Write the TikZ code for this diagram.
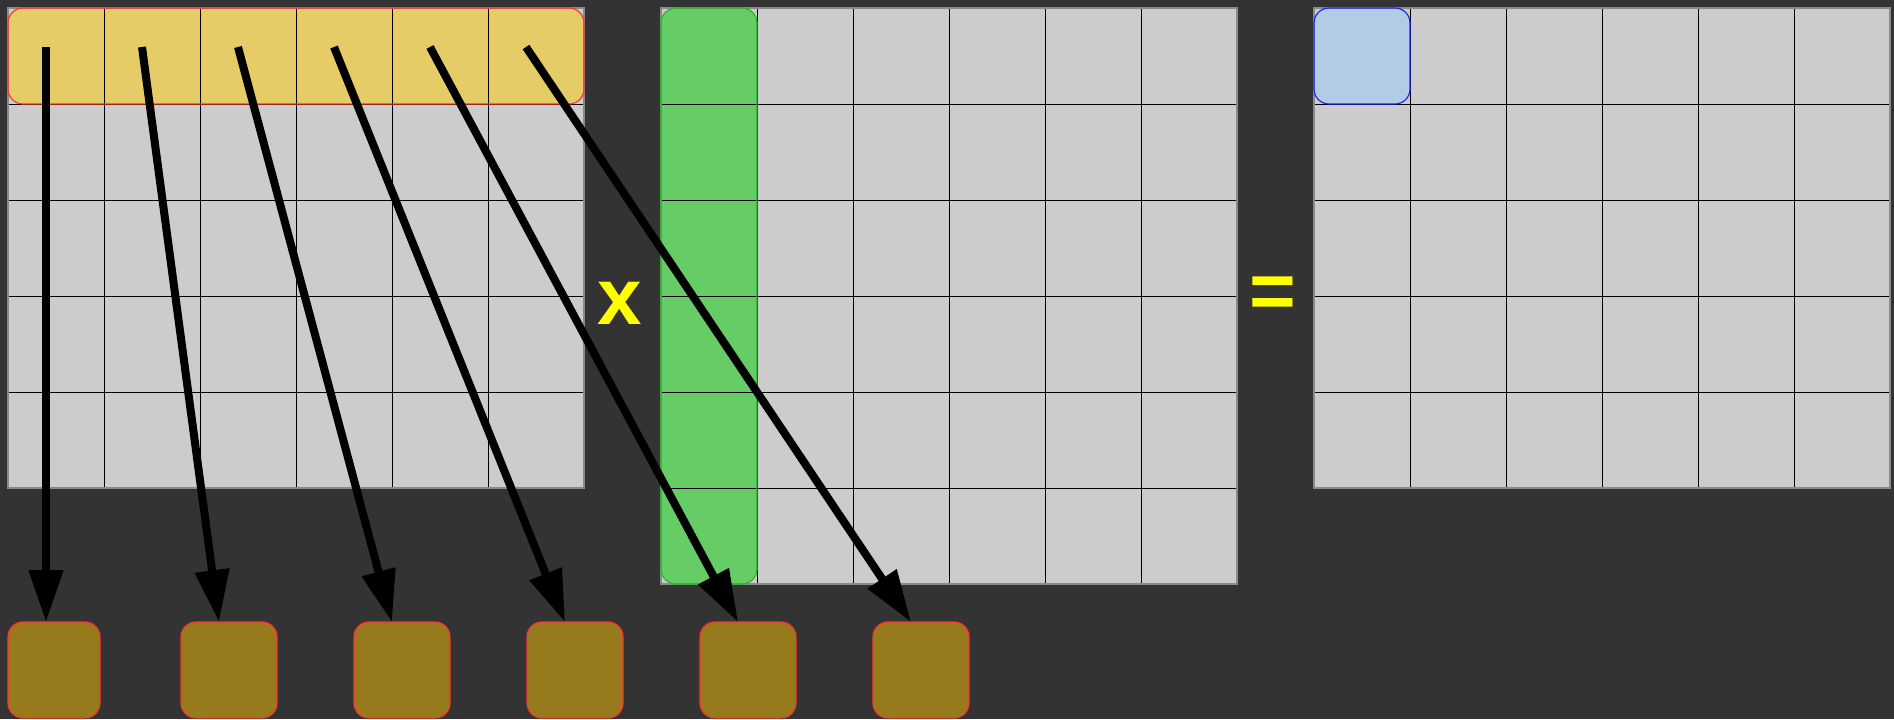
\documentclass[tikz,border=0pt]{standalone}
\usepackage{fontspec}
\setmainfont{Liberation Sans}
\usetikzlibrary{arrows.meta,calc}
\definecolor{bg}{HTML}{333333}
\definecolor{cellgray}{HTML}{CCCCCC}
\definecolor{gridedge}{HTML}{8A8A8A}
\definecolor{yel}{HTML}{E6CC66}
\definecolor{redline}{HTML}{FF3333}
\definecolor{grn}{HTML}{66CC66}
\definecolor{grnline}{HTML}{22BB22}
\definecolor{blu}{HTML}{B3CCE6}
\definecolor{bluline}{HTML}{2222FF}
\definecolor{olive}{HTML}{977A1B}
\definecolor{symb}{HTML}{FFFF00}
\begin{document}
\begin{tikzpicture}[x=0.5pt,y=-0.5pt,
  hl/.style={rounded corners=7.5pt, inner sep=0pt, outer sep=0pt, anchor=north west, line width=0.6pt},
  outbox/.style={hl, fill=olive, draw=redline, minimum height=48pt, minimum width=48pt},
  gline/.style={black, line width=0.4pt},
  gborder/.style={draw=gridedge, line width=1pt},
  arr/.style={line width=4pt, -{Triangle[length=26pt,width=16.5pt]}},
  symbol/.style={text=symb, font=\bfseries\fontsize{40pt}{40pt}\selectfont, inner sep=0pt}]
\useasboundingbox[fill=bg] (0,0) rectangle (1894,719);
% grid backgrounds
\fill[cellgray] (8,8) rectangle (584,488);
\fill[cellgray] (661,8) rectangle (1237,584);
\fill[cellgray] (1314,8) rectangle (1890,488);
% highlight fills
\node[hl, fill=yel, minimum width=288pt, minimum height=48pt] (rowA) at (8,8) {};
\node[hl, fill=grn, minimum width=48pt, minimum height=288pt] (colB) at (661,8) {};
\node[hl, fill=blu, minimum width=48pt, minimum height=48pt] (cellC) at (1314,8) {};
% grid lines
\foreach \x/\y/\r in {8/8/5, 661/8/6, 1314/8/5} {
  \foreach \i in {1,...,5} \draw[gline] (\x+96*\i,\y) -- ++(0,96*\r);
  \foreach \j in {1,...,\r} \draw[gline] (\x,\y+96*\j) -- ++(576,0);
}
% outer borders
\draw[gborder] (8,8) rectangle (584,488);
\draw[gborder] (661,8) rectangle (1237,584);
\draw[gborder] (1314,8) rectangle (1890,488);
% highlight borders
\draw[redline, line width=0.6pt, rounded corners=7.5pt] (rowA.north west) rectangle (rowA.south east);
\draw[grnline, line width=0.6pt, rounded corners=7.5pt] (colB.north west) rectangle (colB.south east);
\draw[bluline, line width=0.6pt, rounded corners=7.5pt] (cellC.north west) rectangle (cellC.south east);
% symbols
\node[symbol] (times) at (620,303) {x};
\node[symbol] (equals) at (1273,298) {=};
% output boxes
\node[outbox, minimum width=46pt] (b1) at (8,622) {};
\node[outbox] (b2) at (181,622) {};
\node[outbox] (b3) at (354,622) {};
\node[outbox] (b4) at (527,622) {};
\node[outbox] (b5) at (700,622) {};
\node[outbox] (b6) at (873,622) {};
% arrow starts
\foreach \k in {1,...,6} \coordinate (s\k) at (46+96*\k-96,47);
\foreach \k in {1,...,6} \draw[arr] (s\k) -- ([xshift=19pt]b\k.north west);
\end{tikzpicture}
\end{document}
